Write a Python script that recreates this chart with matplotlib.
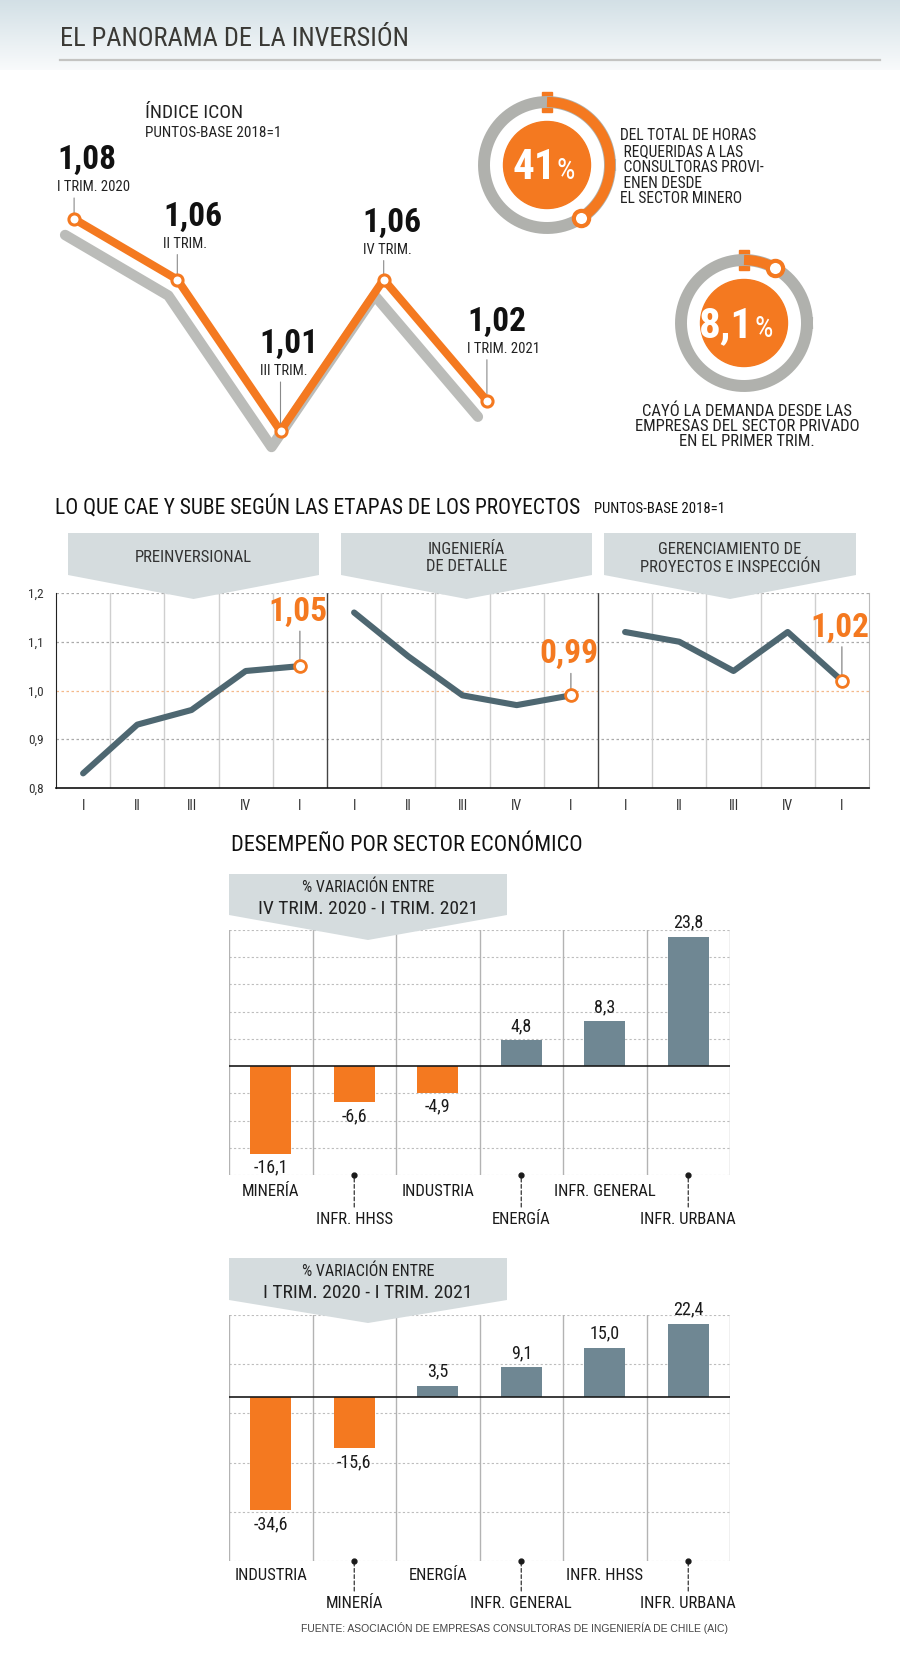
import numpy as np
import matplotlib
matplotlib.use("Agg")
import matplotlib.pyplot as plt
import matplotlib.transforms as mtransforms
from matplotlib import font_manager
from matplotlib.patches import Polygon, Circle, Rectangle

# datos
icon_labels = ["I TRIM. 2020", "II TRIM.", "III TRIM.", "IV TRIM.", "I TRIM. 2021"]
icon_values = [1.08, 1.06, 1.01, 1.06, 1.02]

horas_mineria = 41.0   # %
caida_privado = 8.1    # %

etapas = ["PREINVERSIONAL", "INGENIERÍA\nDE DETALLE", "GERENCIAMIENTO DE\nPROYECTOS E INSPECCIÓN"]
trimestres = ["I", "II", "III", "IV", "I"]
preinversional = [0.83, 0.93, 0.96, 1.04, 1.05]
ingenieria = [1.16, 1.07, 0.99, 0.97, 0.99]
gerenciamiento = [1.12, 1.10, 1.04, 1.12, 1.02]
y_ticks = [0.8, 0.9, 1.0, 1.1, 1.2]

sectores_trim = ["MINERÍA", "INFR. HHSS", "INDUSTRIA", "ENERGÍA", "INFR. GENERAL", "INFR. URBANA"]
var_trim = [-16.1, -6.6, -4.9, 4.8, 8.3, 23.8]
sectores_anual = ["INDUSTRIA", "MINERÍA", "ENERGÍA", "INFR. GENERAL", "INFR. HHSS", "INFR. URBANA"]
var_anual = [-34.6, -15.6, 3.5, 9.1, 15.0, 22.4]

# fuentes y colores
nombres = {f.name for f in font_manager.fontManager.ttflist}
if "Liberation Sans Narrow" in nombres:
    ANGOSTA = "Liberation Sans Narrow"
elif "Roboto Condensed" in nombres:
    ANGOSTA = "Roboto Condensed"
else:
    ANGOSTA = "Liberation Sans"
NORMAL = "Liberation Sans"

NAR = "#f47920"
PIZARRA = "#4e6771"
AZUL = "#6f8793"
GRIS_BANNER = "#d5dcde"
TXT = "#222222"

W, H = 900, 1668
fig = plt.figure(figsize=(W / 100, H / 100), dpi=100)
fig.patch.set_facecolor("white")


def ejes(x0, y0, x1, y1):
    # ejes definidos en pixeles de la figura (origen arriba a la izquierda)
    return fig.add_axes([x0 / W, 1 - y1 / H, (x1 - x0) / W, (y1 - y0) / H])


def coma(v, d):
    return f"{v:.{d}f}".replace(".", ",")


# capa superior para textos y formas
bg = fig.add_axes([0, 0, 1, 1], zorder=10)
grad = np.linspace(0, 1, 100)[:, None, None]
c_top = np.array([0.827, 0.878, 0.902])
c_bot = np.array([0.975, 0.982, 0.986])
bg.imshow(c_top * (1 - grad) + c_bot * grad, extent=(0, W, 70, 0), aspect="auto", zorder=0)
bg.set_xlim(0, W)
bg.set_ylim(H, 0)
bg.axis("off")

bg.text(60, 39, "EL PANORAMA DE LA INVERSIÓN", fontsize=19, family=ANGOSTA, color="#3a3935",
        ha="left", va="center")
bg.plot([60, 880], [60, 60], color="#c4c4c2", lw=1.6)

# ---- Índice ICON ----
bg.text(145, 113, "ÍNDICE ICON", fontsize=14, family=ANGOSTA, color=TXT, ha="left", va="center")
bg.text(145, 133, "PUNTOS-BASE 2018=1", fontsize=11, family=ANGOSTA, color=TXT, ha="left", va="center")

ax1 = ejes(22.5, 158.4, 538.5, 491.6)
ax1.set_xlim(-0.5, 4.5)
ax1.set_ylim(0.99, 1.10)
ax1.axis("off")
xi = np.arange(len(icon_values))
sombra = mtransforms.offset_copy(ax1.transData, fig=fig, x=-9, y=-16, units="dots")
ax1.plot(xi, icon_values, color="#bbbcb9", lw=7.5, solid_capstyle="round", transform=sombra, clip_on=False)
ax1.plot(xi, icon_values, color=NAR, lw=5.8, solid_capstyle="round", clip_on=False, zorder=3)
ax1.plot(xi, icon_values, "o", ms=8, mfc="white", mec=NAR, mew=2.2, clip_on=False, zorder=5)

sube = [59, 63, 87, 57, 79]
corre = [-17, -14, -21, -21, -20]
for i, (v, lab) in enumerate(zip(icon_values, icon_labels)):
    ax1.annotate(coma(v, 2), xy=(i, v), xytext=(corre[i], sube[i]), textcoords="offset pixels",
                 ha="left", va="center", fontsize=24, fontweight="bold", family=ANGOSTA, color="#111111")
    ax1.annotate(lab, xy=(i, v), xytext=(corre[i], sube[i] - 27), textcoords="offset pixels",
                 ha="left", va="center", fontsize=10.5, family=ANGOSTA, color=TXT)
    ax1.annotate("", xy=(i, v), xytext=(0, sube[i] - 38), textcoords="offset pixels", zorder=1,
                 arrowprops=dict(arrowstyle="-", color="#8a8a8a", lw=0.8, shrinkA=0, shrinkB=0))


# ---- donas ----
def dona(cx, cy, pct, grande, chico, dx_pct):
    ax = ejes(cx - 80, cy - 80, cx + 80, cy + 80)
    ax.set_xlim(-80, 80)
    ax.set_ylim(-80, 80)
    ax.axis("off")
    t = np.linspace(0, 2 * np.pi, 300)
    ax.plot(63 * np.cos(t), 63 * np.sin(t), color="#b0b1ad", lw=8.6)
    ang = np.radians(90 - np.linspace(0, pct * 3.6, 200))
    ax.plot(63 * np.cos(ang), 63 * np.sin(ang), color=NAR, lw=7.4, solid_capstyle="butt")
    ax.add_patch(Rectangle((-5, 53), 10, 20, color=NAR))
    ax.plot([63 * np.cos(ang[-1])], [63 * np.sin(ang[-1])], "o", ms=11, mfc="white", mec=NAR, mew=3)
    ax.add_patch(Circle((0, 0), 43.5, color=NAR))
    ax.text(dx_pct, -14, grande, fontsize=31, fontweight="bold", family=ANGOSTA, color="white",
            ha="right", va="baseline")
    ax.text(dx_pct + 1, -14, chico, fontsize=21, family=ANGOSTA, color="white", ha="left", va="baseline")


dona(547, 165, horas_mineria, "41", "%", 9)
dona(744, 323, caida_privado, "8,1", "%", 9)

bg.text(620, 135, "DEL TOTAL DE HORAS\n REQUERIDAS A LAS\n CONSULTORAS PROVI-\n ENEN DESDE\nEL SECTOR MINERO",
        fontsize=11.2, family=ANGOSTA, color=TXT, ha="left", va="top", linespacing=1.07,
        transform=mtransforms.offset_copy(bg.transData, fig=fig, x=0, y=7, units="dots"))
bg.text(747, 426, "CAYÓ LA DEMANDA DESDE LAS\nEMPRESAS DEL SECTOR PRIVADO\nEN EL PRIMER TRIM.",
        fontsize=12, family=ANGOSTA, color=TXT, ha="center", va="center", linespacing=1.0)

# ---- etapas de los proyectos ----
bg.text(55, 507, "LO QUE CAE Y SUBE SEGÚN LAS ETAPAS DE LOS PROYECTOS", fontsize=15.5, family=ANGOSTA,
        color="#111111", ha="left", va="center")
bg.text(594, 509, "PUNTOS-BASE 2018=1", fontsize=10.5, family=ANGOSTA, color="#111111", ha="left", va="center")

for (x0, x1), nombre in zip([(68, 319), (341, 592), (604, 856)], etapas):
    xm = (x0 + x1) / 2
    bg.add_patch(Polygon([(x0, 533), (x1, 533), (x1, 575), (xm, 599), (x0, 575)], closed=True,
                         fc=GRIS_BANNER, ec="none"))
    bg.text(xm, 558, nombre, fontsize=12, family=ANGOSTA, color="#333333", ha="center", va="center",
            linespacing=1.2)

ax2 = ejes(56, 593, 869, 788)
ax2.set_xlim(-0.5, 14.5)
ax2.set_ylim(0.8, 1.2)
for g in y_ticks[1:]:
    ax2.axhline(g, color="#f5b98a" if g == 1.0 else "#aaaaaa", lw=0.9, ls=(0, (2, 2)), zorder=0)
for b in np.arange(0.5, 14, 1):
    if b in (4.5, 9.5):
        ax2.axvline(b, color="#444444", lw=1.0, zorder=1)
    else:
        ax2.axvline(b, color="#cfcfcf", lw=1.0, zorder=0)
ax2.spines["top"].set_visible(False)
ax2.spines["right"].set_color("#bbbbbb")
ax2.spines["left"].set_color("#222222")
ax2.spines["bottom"].set_color("#111111")
ax2.spines["bottom"].set_linewidth(1.2)
ax2.set_yticks(y_ticks)
ax2.set_yticklabels([coma(v, 1) for v in y_ticks], fontsize=9.5, family=ANGOSTA, color="#333333")
ax2.set_xticks(np.arange(15))
ax2.set_xticklabels(trimestres * 3, fontsize=10, family=ANGOSTA, color="#333333")
ax2.tick_params(length=0)
ax2.tick_params(axis="y", pad=9)
ax2.tick_params(axis="x", pad=8)

sube_e = [54, 41, 53]
for k, serie in enumerate([preinversional, ingenieria, gerenciamiento]):
    xs = np.arange(5) + 5 * k
    ax2.plot(xs, serie, color=PIZARRA, lw=4.4, solid_capstyle="round", zorder=3)
    ax2.plot([xs[-1]], [serie[-1]], "o", ms=8.5, mfc="white", mec=NAR, mew=2, zorder=5, clip_on=False)
    ax2.annotate(coma(serie[-1], 2), xy=(xs[-1], serie[-1]), xytext=(-2, sube_e[k]),
                 textcoords="offset pixels", ha="center", va="center", fontsize=24, fontweight="bold",
                 family=ANGOSTA, color=NAR)
    ax2.annotate("", xy=(xs[-1], serie[-1]), xytext=(0, sube_e[k] - 19), textcoords="offset pixels",
                 zorder=2, arrowprops=dict(arrowstyle="-", color="#777777", lw=0.8, shrinkA=0, shrinkB=0))

# ---- desempeño por sector ----
bg.text(231, 845, "DESEMPEÑO POR SECTOR ECONÓMICO", fontsize=16, family=ANGOSTA, color="#111111",
        ha="left", va="center")


def banner_var(y0, y1, ypt, linea2):
    bg.add_patch(Polygon([(229, y0), (507, y0), (507, y1), (368, ypt), (229, y1)], closed=True,
                         fc=GRIS_BANNER, ec="none"))
    bg.text(368, y0 + 13, "% VARIACIÓN ENTRE", fontsize=11.5, family=ANGOSTA, color="#222222",
            ha="center", va="center")
    bg.text(368, y0 + 35, linea2, fontsize=14, family=ANGOSTA, color="#222222", ha="center", va="center")


def barras(top, bottom, cats, vals, ymin, ymax, paso, d_lab):
    ax = ejes(229, top, 730, bottom)
    ax.set_xlim(-0.5, 5.5)
    ax.set_ylim(ymin, ymax)
    ax.axis("off")
    for g in np.arange(ymin, ymax + 0.1, paso):
        if abs(g) > 1e-9:
            ax.axhline(g, color="#bdbdbd", lw=0.8, ls=(0, (2, 2)), zorder=0)
    for b in np.arange(-0.5, 6, 1):
        ax.axvline(b, color="#b3b3b3", lw=1.0, zorder=0)
    colores = [NAR if v < 0 else AZUL for v in vals]
    ax.bar(np.arange(len(vals)), vals, width=0.49, color=colores, zorder=2)
    ax.axhline(0, color="#1a1a1a", lw=1.2, zorder=3)
    for i, v in enumerate(vals):
        ax.annotate(coma(v, 1), xy=(i, v), xytext=(0, 14 if v > 0 else -14), textcoords="offset pixels",
                    ha="center", va="center", fontsize=13, family=ANGOSTA, color="#1a1a1a")
    for i, c in enumerate(cats):
        if i % 2 == 0:
            ax.annotate(c, xy=(i, 0), xycoords=("data", "axes fraction"), xytext=(0, -d_lab[0]),
                        textcoords="offset pixels", ha="center", va="center", fontsize=12,
                        family=ANGOSTA, color="#1a1a1a")
        else:
            ax.plot([i], [ymin], "o", ms=3.5, color="#1a1a1a", clip_on=False, zorder=4)
            ax.annotate("", xy=(i, 0), xycoords=("data", "axes fraction"), xytext=(0, -d_lab[1] + 13),
                        textcoords="offset pixels",
                        arrowprops=dict(arrowstyle="-", color="#333333", lw=0.9, linestyle=(0, (3, 2)),
                                        shrinkA=0, shrinkB=0))
            ax.annotate(c, xy=(i, 0), xycoords=("data", "axes fraction"), xytext=(0, -d_lab[1]),
                        textcoords="offset pixels", ha="center", va="center", fontsize=12,
                        family=ANGOSTA, color="#1a1a1a")


barras(930, 1175, sectores_trim, var_trim, -20, 25, 5, (16, 45))
banner_var(874, 915, 940, "IV TRIM. 2020 - I TRIM. 2021")
barras(1315, 1561, sectores_anual, var_anual, -50, 25, 15, (14, 43))
banner_var(1258, 1300, 1323, "I TRIM. 2020 - I TRIM. 2021")

bg.text(728, 1628, "FUENTE: ASOCIACIÓN DE EMPRESAS CONSULTORAS DE INGENIERÍA DE CHILE (AIC)",
        fontsize=7.5, family=NORMAL, color="#444444", ha="right", va="center")

fig.savefig("out.png", dpi=100, facecolor="white")
